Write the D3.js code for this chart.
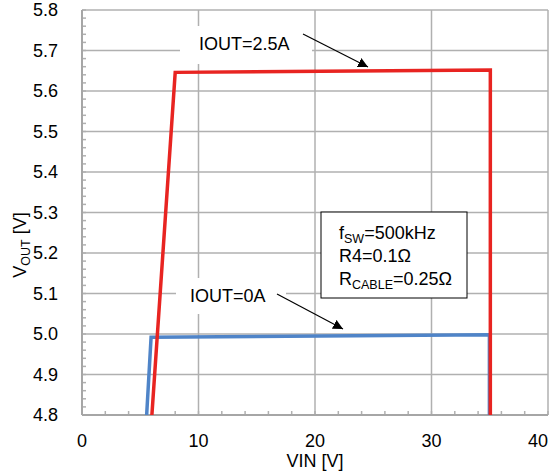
<!DOCTYPE html>
<html><head><meta charset="utf-8">
<script src="https://cdn.jsdelivr.net/npm/d3@7"></script>
<style>body{margin:0;background:#fff}svg{display:block}text{font-family:"Liberation Sans",Arial,sans-serif;fill:#000}</style>
</head><body>
<script>
const xTicks = [0, 10, 20, 30, 40];
const yTicks = [4.8, 4.9, 5.0, 5.1, 5.2, 5.3, 5.4, 5.5, 5.6, 5.7, 5.8];
const vinHigh = [6.0, 8.0, 35.05, 35.05];
const voutHigh = [4.8, 5.646, 5.652, 4.8];
const vinZero = [5.55, 5.93, 34.97, 34.97];
const voutZero = [4.8, 4.992, 4.998, 4.8];
const seriesLabels = ["IOUT=2.5A", "IOUT=0A"];

const W = 556, H = 475;
const m = {l: 82, r: 8, t: 10, b: 60};
const FS = 18, SUB = 12.5;
const svg = d3.select("body").append("svg").attr("width", W).attr("height", H);
const x = d3.scaleLinear().domain([0, 40]).range([m.l, W - m.r]);
const y = d3.scaleLinear().domain([4.8, 5.8]).range([H - m.b, m.t]);
const grid = "#b0b0b0";

// gridlines
svg.append("g").selectAll("line").data(yTicks).join("line")
  .attr("x1", x(0)).attr("x2", x(40)).attr("y1", d => y(d)).attr("y2", d => y(d))
  .attr("stroke", grid).attr("stroke-width", 1.5);
svg.append("g").selectAll("line").data(xTicks).join("line")
  .attr("x1", d => x(d)).attr("x2", d => x(d)).attr("y1", y(4.8)).attr("y2", y(5.8))
  .attr("stroke", grid).attr("stroke-width", 1.5);

// minor ticks
const xMinor = d3.range(0, 40.01, 2);
const yMinor = d3.range(0, 51).map(i => 4.8 + i * 0.02);
svg.append("g").selectAll("line").data(xMinor).join("line")
  .attr("x1", d => x(d)).attr("x2", d => x(d)).attr("y1", y(4.8)).attr("y2", y(4.8) - 4)
  .attr("stroke", grid).attr("stroke-width", 1.5);
svg.append("g").selectAll("line").data(yMinor).join("line")
  .attr("x1", x(0)).attr("x2", x(0) + 4).attr("y1", d => y(d)).attr("y2", d => y(d))
  .attr("stroke", grid).attr("stroke-width", 1.5);

// axes lines
svg.append("line").attr("x1", x(0)).attr("x2", x(40)).attr("y1", y(4.8)).attr("y2", y(4.8)).attr("stroke", "#a6a6a6").attr("stroke-width", 2);
svg.append("line").attr("x1", x(0)).attr("x2", x(0)).attr("y1", y(4.8)).attr("y2", y(5.8)).attr("stroke", "#a6a6a6").attr("stroke-width", 2);

// tick labels
svg.append("g").selectAll("text").data(yTicks).join("text")
  .attr("x", 58).attr("y", d => y(d)).attr("dy", "0.35em").attr("text-anchor", "end")
  .attr("font-size", FS).text(d => d.toFixed(1));
svg.append("g").selectAll("text").data(xTicks).join("text")
  .attr("x", d => Math.min(x(d), W - 1)).attr("y", 447)
  .attr("text-anchor", d => x(d) + 10 > W ? "end" : "middle")
  .attr("font-size", FS).text(d => d);

// axis titles
svg.append("text").attr("x", x(20)).attr("y", 467).attr("text-anchor", "middle").attr("font-size", FS).text("VIN [V]");
const yt = svg.append("text").attr("transform", "translate(26,245) rotate(-90)").attr("text-anchor", "middle").attr("font-size", FS);
yt.append("tspan").text("V");
yt.append("tspan").attr("font-size", SUB).attr("dy", 4).text("OUT");
yt.append("tspan").attr("dy", -4).text(" [V]");

// series
const line = d3.line().x(d => x(d[0])).y(d => y(d[1]));
svg.append("path").datum(vinZero.map((v, i) => [v, voutZero[i]]))
  .attr("d", line).attr("fill", "none").attr("stroke", "#4f84c8").attr("stroke-width", 3.5);
svg.append("path").datum(vinHigh.map((v, i) => [v, voutHigh[i]]))
  .attr("d", line).attr("fill", "none").attr("stroke", "#e82421").attr("stroke-width", 3.5);

// annotation label backgrounds
svg.append("rect").attr("x", 180).attr("y", 26).attr("width", 132).attr("height", 38).attr("fill", "#fff");
svg.append("rect").attr("x", 176).attr("y", 278).attr("width", 110).attr("height", 36).attr("fill", "#fff");
svg.append("text").attr("x", 199).attr("y", 50).attr("font-size", FS).text(seriesLabels[0]);
svg.append("text").attr("x", 190).attr("y", 302).attr("font-size", FS).text(seriesLabels[1]);

// arrows
const defs = svg.append("defs");
defs.append("marker").attr("id", "ah").attr("viewBox", "0 0 10 10").attr("refX", 10).attr("refY", 5)
  .attr("markerWidth", 10).attr("markerHeight", 10).attr("markerUnits", "userSpaceOnUse").attr("orient", "auto")
  .append("path").attr("d", "M0,0 L10,5 L0,10 Z").attr("fill", "#000");
svg.append("line").attr("x1", 303).attr("y1", 34).attr("x2", 368).attr("y2", 67)
  .attr("stroke", "#000").attr("stroke-width", 1.2).attr("marker-end", "url(#ah)");
svg.append("line").attr("x1", 277).attr("y1", 294).attr("x2", 343).attr("y2", 329)
  .attr("stroke", "#000").attr("stroke-width", 1.2).attr("marker-end", "url(#ah)");

// info box
svg.append("rect").attr("x", 321).attr("y", 212).attr("width", 146).attr("height", 86)
  .attr("fill", "#fff").attr("stroke", "#000").attr("stroke-width", 1);
const t1 = svg.append("text").attr("x", 339).attr("y", 239).attr("font-size", FS);
t1.append("tspan").text("f");
t1.append("tspan").attr("font-size", SUB).attr("dy", 4).text("SW");
t1.append("tspan").attr("dy", -4).text("=500kHz");
svg.append("text").attr("x", 339).attr("y", 262).attr("font-size", FS).text("R4=0.1Ω");
const t3 = svg.append("text").attr("x", 339).attr("y", 285).attr("font-size", FS);
t3.append("tspan").text("R");
t3.append("tspan").attr("font-size", SUB).attr("dy", 4).text("CABLE");
t3.append("tspan").attr("dy", -4).text("=0.25Ω");
</script>
</body></html>
